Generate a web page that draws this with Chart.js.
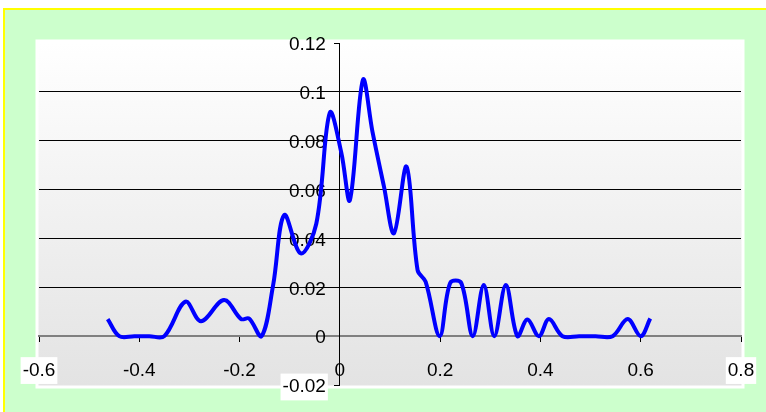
<!DOCTYPE html>
<html>
<head>
<meta charset="utf-8">
<script src="https://cdn.jsdelivr.net/npm/chart.js@4/dist/chart.umd.min.js"></script>
<style>
  body { margin: 0; background: #fff; }
  .frame {
    position: absolute; left: 3px; top: 8px; width: 763px; height: 404px;
    background: #ccffcc; border-top: 2px solid #ffff00; border-left: 2px solid #ffff00;
    box-sizing: border-box;
  }
  #chart { position: absolute; left: 0; top: 0; }
</style>
</head>
<body>
<div class="frame"></div>
<canvas id="chart" width="766" height="412"></canvas>
<script>
// values
const xValues = [-0.463, -0.44, -0.41, -0.38, -0.35, -0.308, -0.277, -0.231, -0.197, -0.181,
  -0.156, -0.133, -0.111, -0.078, -0.047, -0.020, 0.003, 0.020, 0.046, 0.065,
  0.088, 0.108, 0.133, 0.155, 0.171, 0.199, 0.22, 0.242, 0.265, 0.287,
  0.308, 0.331, 0.354, 0.374, 0.397, 0.417, 0.444, 0.477, 0.51, 0.544,
  0.574, 0.600, 0.619];
const yValues = [0.007, 0, 0, 0, 0, 0.0141, 0.0061, 0.0148, 0.0070, 0.0072,
  0, 0.021, 0.0496, 0.0339, 0.046, 0.0915, 0.075, 0.0557, 0.1049, 0.0837,
  0.0612, 0.0421, 0.0694, 0.027, 0.0223, 0, 0.0218, 0.0218, 0, 0.0209,
  0, 0.0209, 0, 0.0068, 0, 0.0070, 0, 0, 0, 0,
  0.0070, 0, 0.0072];

const xTicks = [-0.6, -0.4, -0.2, 0, 0.2, 0.4, 0.6, 0.8];
const yTicks = [-0.02, 0, 0.02, 0.04, 0.06, 0.08, 0.1, 0.12];

const points = xValues.map((x, i) => ({ x: x, y: yValues[i] }));
const fmt = v => String(Math.round(v * 100) / 100);

// y axis sits at x = 0, chart.js puts its labels right on the line,
// so push them left past the tick marks
class ShiftedLinear extends Chart.LinearScale {
  _computeLabelItems(area) {
    const items = super._computeLabelItems(area);
    items.forEach(it => {
      it.options.translation[0] -= 14;
      it.options.translation[1] += 2;
    });
    return items;
  }
}
ShiftedLinear.id = 'shiftedLinear';
ShiftedLinear.defaults = Chart.LinearScale.defaults;
Chart.register(ShiftedLinear);

// gray gradient plot area with white edge
const plotBg = {
  id: 'plotBg',
  beforeDraw(chart) {
    const { ctx, chartArea: a } = chart;
    const g = ctx.createLinearGradient(0, a.top, 0, a.bottom);
    g.addColorStop(0, '#ffffff');
    g.addColorStop(1, '#e3e3e3');
    ctx.save();
    ctx.fillStyle = g;
    ctx.fillRect(a.left - 2, a.top - 2, a.width + 4, a.height + 4);
    ctx.strokeStyle = '#ffffff';
    ctx.lineWidth = 3;
    ctx.strokeRect(a.left - 2, a.top - 2, a.width + 4, a.height + 4);
    ctx.restore();
  }
};

const font = { family: "'Liberation Sans', Arial, sans-serif", size: 19 };

new Chart(document.getElementById('chart'), {
  type: 'scatter',
  data: {
    datasets: [{
      data: points,
      showLine: true,
      borderColor: '#0000ff',
      borderWidth: 4,
      pointRadius: 0,
      tension: 0.35,
      fill: false
    }]
  },
  options: {
    responsive: false,
    animation: false,
    devicePixelRatio: 1,
    layout: { padding: { left: 39, right: 25, top: 43, bottom: 27 } },
    plugins: { legend: { display: false }, tooltip: { enabled: false } },
    scales: {
      x: {
        type: 'linear',
        position: { y: 0 },
        min: -0.6,
        max: 0.8,
        afterBuildTicks: s => { s.ticks = xTicks.map(v => ({ value: v })); },
        afterFit: s => { s.height = 0; s.paddingLeft = 0; s.paddingRight = 0; },
        border: { color: '#808080', width: 2 },
        grid: { drawOnChartArea: false, color: '#000', tickColor: '#000', tickLength: 5 },
        ticks: {
          font: font,
          color: '#000',
          padding: 18,
          maxRotation: 0,
          callback: fmt,
          showLabelBackdrop: true,
          backdropPadding: 2,
          backdropColor: c => (c.tick.value === -0.6 || c.tick.value === 0.8) ? '#fff' : 'rgba(0,0,0,0)'
        }
      },
      y: {
        type: 'shiftedLinear',
        position: { x: 0 },
        min: -0.02,
        max: 0.12,
        afterBuildTicks: s => { s.ticks = yTicks.map(v => ({ value: v })); },
        afterFit: s => { s.width = 0; s.paddingTop = 0; s.paddingBottom = 0; },
        border: { color: '#000', width: 1 },
        grid: {
          color: c => (c.tick.value === 0.12 || c.tick.value <= 0) ? 'rgba(0,0,0,0)' : '#000',
          tickColor: '#000',
          tickWidth: 1,
          tickLength: 5
        },
        ticks: {
          font: font,
          color: '#000',
          padding: 9,
          callback: fmt,
          showLabelBackdrop: true,
          backdropPadding: 2,
          backdropColor: c => c.tick.value === -0.02 ? '#fff' : 'rgba(0,0,0,0)'
        }
      }
    }
  },
  plugins: [plotBg]
});
</script>
</body>
</html>
